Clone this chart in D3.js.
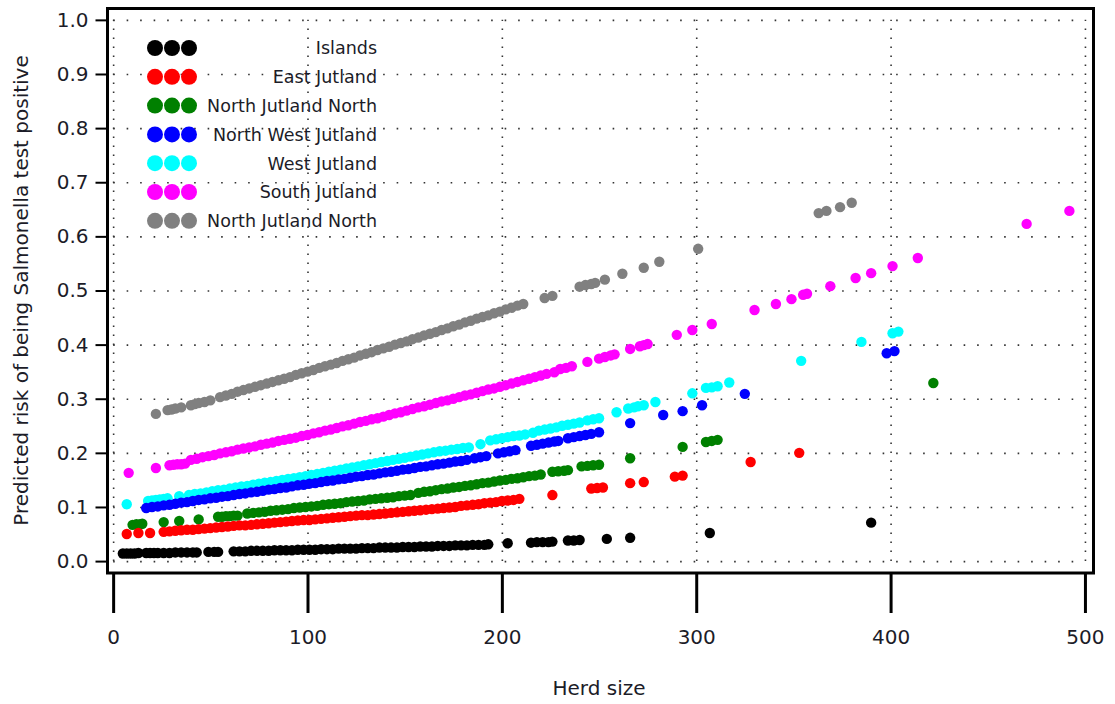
<!DOCTYPE html>
<html><head><meta charset="utf-8">
<script src="https://cdn.jsdelivr.net/npm/d3@7"></script>
<style>
body{margin:0;background:#fff}
svg{display:block}
text{font-family:"DejaVu Sans",Verdana,sans-serif;fill:#1c1c28}
</style>
</head><body>
<svg id="chart" width="1115" height="704"></svg>
<script>
const seriesNames = ["Islands","East Jutland","North Jutland North","North West Jutland","West Jutland","South Jutland","North Jutland North"];
const seriesColors = ["#000000","#ff0000","#008000","#0000ff","#00ffff","#ff00ff","#808080"];
const xTicks = [0,100,200,300,400,500];
const yTicks = [0,0.1,0.2,0.3,0.4,0.5,0.6,0.7,0.8,0.9,1.0];
const xTitle = "Herd size";
const yTitle = "Predicted risk of being Salmonella test positive";

const islandsHerd = [5,7,9,11,13,17,19,21,23,26,29,32,35,38,41,43,49,52,54,62,65,68,71,74,77,80,83,86,89,92,95,98,101,104,107,110,113,116,119,122,125,128,131,134,137,140,143,146,149,152,155,158,161,164,167,170,173,176,179,182,185,188,191,193,203,215,218,221,224,226,234,237,240,254,266,307,390];
const islandsRisk = [.014,.014,.014,.014,.015,.015,.015,.015,.015,.015,.015,.016,.016,.016,.016,.016,.017,.017,.017,.018,.018,.018,.019,.019,.019,.019,.020,.020,.020,.020,.021,.021,.021,.021,.022,.022,.022,.023,.023,.023,.023,.024,.024,.024,.025,.025,.025,.025,.026,.026,.026,.027,.027,.027,.028,.028,.028,.029,.029,.029,.030,.030,.030,.031,.033,.034,.035,.035,.035,.036,.038,.038,.039,.041,.043,.052,.071];

const eastHerd = [7,13,19,26,29,32,35,38,41,44,47,50,53,56,59,62,65,68,71,74,77,80,83,86,89,92,95,98,101,104,107,110,113,116,119,122,125,128,131,134,137,140,143,146,149,152,155,158,161,164,167,170,173,176,179,182,185,188,191,194,197,200,203,206,209,226,246,249,252,266,273,289,293,328,353];
const eastRisk = [.050,.052,.052,.054,.055,.056,.057,.058,.058,.059,.060,.061,.062,.063,.064,.065,.066,.066,.067,.068,.069,.070,.071,.072,.073,.074,.075,.076,.076,.077,.078,.079,.080,.081,.082,.083,.084,.085,.085,.086,.087,.088,.089,.090,.091,.092,.093,.094,.095,.096,.097,.098,.099,.100,.102,.103,.104,.105,.107,.108,.109,.111,.112,.113,.115,.122,.134,.135,.136,.144,.146,.156,.158,.183,.200];

const njNorthHerd = [10,12,14,15,26,34,44,54,56,58,60,62,64,69,72,75,78,81,84,87,90,93,96,99,102,105,108,111,114,117,120,123,126,129,132,135,138,141,144,147,150,153,157,160,163,166,169,172,175,178,181,184,187,190,193,196,199,202,205,208,211,214,217,220,226,229,232,234,241,244,247,250,266,293,305,308,311,422];
const njNorthRisk = [.067,.068,.068,.069,.072,.074,.077,.082,.082,.083,.083,.084,.084,.088,.089,.090,.091,.093,.094,.095,.096,.098,.099,.100,.101,.102,.104,.105,.106,.107,.109,.110,.111,.112,.114,.115,.116,.117,.118,.120,.121,.122,.126,.128,.129,.131,.133,.134,.136,.137,.139,.140,.142,.144,.145,.147,.149,.150,.152,.153,.155,.157,.158,.160,.165,.166,.167,.168,.175,.176,.177,.178,.190,.211,.220,.222,.224,.329];

const nwHerd = [17,20,23,26,29,32,35,38,41,44,47,50,53,56,59,62,65,68,71,74,77,80,83,86,89,92,95,98,101,104,107,110,113,116,119,122,125,128,131,134,137,140,143,146,149,152,155,158,161,164,167,170,173,176,179,182,186,189,192,198,201,204,207,215,218,221,224,227,229,234,237,240,243,246,250,266,283,293,303,325,398,402];
const nwRisk = [.098,.100,.101,.103,.104,.106,.108,.109,.111,.113,.114,.116,.117,.119,.120,.122,.124,.125,.127,.128,.130,.132,.133,.135,.136,.138,.140,.141,.143,.144,.146,.148,.149,.151,.152,.154,.156,.157,.159,.160,.162,.164,.165,.167,.169,.170,.172,.174,.175,.177,.179,.180,.182,.184,.185,.187,.190,.192,.194,.199,.201,.203,.205,.213,.215,.217,.219,.221,.222,.227,.229,.231,.233,.235,.238,.255,.270,.277,.288,.309,.384,.388];

const westHerd = [7,18,20,22,24,26,28,34,39,42,45,48,51,54,57,60,63,66,69,72,75,78,81,84,87,90,93,96,99,102,105,108,111,114,117,120,123,126,129,132,135,138,141,144,147,150,153,156,159,162,165,168,171,174,177,180,183,189,194,197,200,203,206,209,212,216,219,222,225,228,231,234,237,240,244,247,250,259,265,268,270,273,279,298,305,308,311,317,354,385,401,404];
const westRisk = [.105,.111,.112,.113,.114,.115,.116,.120,.122,.124,.125,.127,.129,.131,.132,.134,.136,.138,.139,.141,.143,.145,.146,.148,.150,.152,.153,.155,.157,.159,.161,.163,.165,.167,.169,.171,.173,.175,.177,.179,.181,.183,.185,.187,.189,.191,.193,.195,.197,.199,.201,.203,.204,.206,.207,.209,.210,.216,.223,.225,.227,.229,.231,.232,.234,.237,.241,.243,.245,.247,.250,.252,.254,.256,.260,.262,.264,.275,.282,.284,.286,.288,.294,.310,.320,.321,.323,.330,.370,.405,.421,.424];

const southHerd = [8,22,29,31,33,35,37,40,43,46,49,52,55,58,61,64,67,70,73,76,79,82,85,88,91,94,97,100,103,106,109,112,115,118,121,124,127,130,133,136,139,142,145,148,151,154,157,160,163,166,169,172,175,178,181,184,187,190,193,196,199,202,205,208,211,214,217,220,223,227,230,233,236,244,250,253,256,258,266,271,273,275,290,298,308,330,341,349,355,357,369,382,390,401,414,470,492];
const southRisk = [.163,.172,.177,.178,.179,.179,.180,.187,.189,.192,.194,.196,.199,.201,.203,.206,.208,.210,.212,.215,.217,.219,.222,.224,.226,.228,.231,.233,.236,.238,.241,.243,.246,.249,.251,.254,.257,.259,.262,.264,.267,.270,.273,.275,.278,.281,.284,.286,.289,.292,.295,.297,.300,.303,.306,.308,.311,.314,.317,.319,.322,.325,.328,.331,.334,.337,.340,.343,.346,.349,.355,.357,.360,.368,.374,.377,.380,.382,.392,.397,.399,.401,.418,.427,.438,.464,.475,.484,.492,.494,.508,.523,.532,.545,.560,.623,.647];

const njNorth2Herd = [22,28,30,32,35,40,42,44,47,50,55,58,61,64,67,70,73,76,79,82,85,88,91,94,97,100,103,106,109,112,115,118,121,124,127,130,133,136,139,142,145,148,151,154,157,160,163,166,169,172,175,178,181,184,187,190,193,196,199,202,205,208,211,222,226,240,243,246,248,253,262,273,281,301,363,367,374,380];
const njNorth2Risk = [.272,.279,.280,.282,.284,.288,.290,.292,.294,.297,.303,.306,.309,.313,.316,.319,.322,.325,.328,.331,.334,.337,.340,.344,.347,.350,.353,.357,.360,.363,.366,.370,.373,.376,.380,.383,.386,.390,.393,.396,.400,.403,.406,.410,.413,.417,.420,.423,.427,.430,.434,.437,.441,.444,.448,.451,.454,.458,.461,.465,.468,.472,.475,.486,.490,.507,.510,.512,.514,.520,.531,.542,.553,.577,.643,.647,.654,.662];

const seriesHerd = [islandsHerd,eastHerd,njNorthHerd,nwHerd,westHerd,southHerd,njNorth2Herd];
const seriesRisk = [islandsRisk,eastRisk,njNorthRisk,nwRisk,westRisk,southRisk,njNorth2Risk];

// ---- layout ----
const frame = {left:107.5, right:1093.5, top:8.5, bottom:573};
const x = d3.scaleLinear().domain([-2.9, 504.4]).range([frame.left, frame.right]);
const y = d3.scaleLinear().domain([-0.022, 1.021]).range([frame.bottom, frame.top]);
const svg = d3.select("#chart");
const FONT = '"DejaVu Sans",Verdana,sans-serif';

// grid
const gH = svg.append("g").attr("transform", `translate(${x(0)},0)`)
  .call(d3.axisRight(y).tickValues(yTicks).tickSize(x(500)-x(0)).tickFormat(""));
gH.select(".domain").remove();
gH.selectAll("line").attr("stroke","#333").attr("stroke-width",1.6).attr("stroke-dasharray","1.6 11.9");
const gV = svg.append("g").attr("transform", `translate(0,${y(0)})`)
  .call(d3.axisTop(x).tickValues(xTicks).tickSize(y(0)-y(1)).tickFormat(""));
gV.select(".domain").remove();
gV.selectAll("line").attr("stroke","#333").attr("stroke-width",1.6).attr("stroke-dasharray","1.6 7.4");

// points (drawn from last series to first)
for (let s = seriesNames.length - 1; s >= 0; s--) {
  const pts = seriesHerd[s].map((h, i) => ({h, r: seriesRisk[s][i]}));
  svg.append("g").selectAll("circle").data(pts).join("circle")
    .attr("cx", d => x(d.h)).attr("cy", d => y(d.r)).attr("r", 5.2)
    .attr("fill", seriesColors[s]);
}

// frame
svg.append("rect").attr("x", frame.left).attr("y", frame.top)
  .attr("width", frame.right-frame.left).attr("height", frame.bottom-frame.top)
  .attr("fill","none").attr("stroke","#000").attr("stroke-width",3);

// axes
const ax = svg.append("g").attr("transform", `translate(0,${frame.bottom})`)
  .call(d3.axisBottom(x).tickValues(xTicks).tickSize(40).tickPadding(17).tickFormat(d3.format("d")));
ax.select(".domain").remove();
ax.selectAll("line").attr("stroke","#000").attr("stroke-width",3);
ax.selectAll("text").attr("font-size",20).attr("font-family",FONT).attr("fill","#1c1c28");

const ay = svg.append("g").attr("transform", `translate(${frame.left},0)`)
  .call(d3.axisLeft(y).tickValues(yTicks).tickSize(12).tickPadding(7).tickFormat(d3.format(".1f")));
ay.select(".domain").remove();
ay.selectAll("line").attr("stroke","#000").attr("stroke-width",2);
ay.selectAll("text").attr("font-size",20).attr("font-family",FONT).attr("fill","#1c1c28");

// titles
svg.append("text").attr("x", (x(0)+x(500))/2).attr("y", 695)
  .attr("text-anchor","middle").attr("font-size",20).text(xTitle);
svg.append("text").attr("transform", `translate(28,${(y(0)+y(1))/2}) rotate(-90)`)
  .attr("text-anchor","middle").attr("font-size",20).text(yTitle);

// legend
const leg = svg.append("g");
seriesNames.forEach((name, i) => {
  const ry = 48 + i*28.8;
  [155,172,189].forEach(cx => {
    leg.append("circle").attr("cx",cx).attr("cy",ry).attr("r",8).attr("fill",seriesColors[i]);
  });
  leg.append("text").attr("x",377).attr("y",ry).attr("dy","0.36em")
    .attr("text-anchor","end").attr("font-size",17.5).text(name);
});
</script>
</body></html>
